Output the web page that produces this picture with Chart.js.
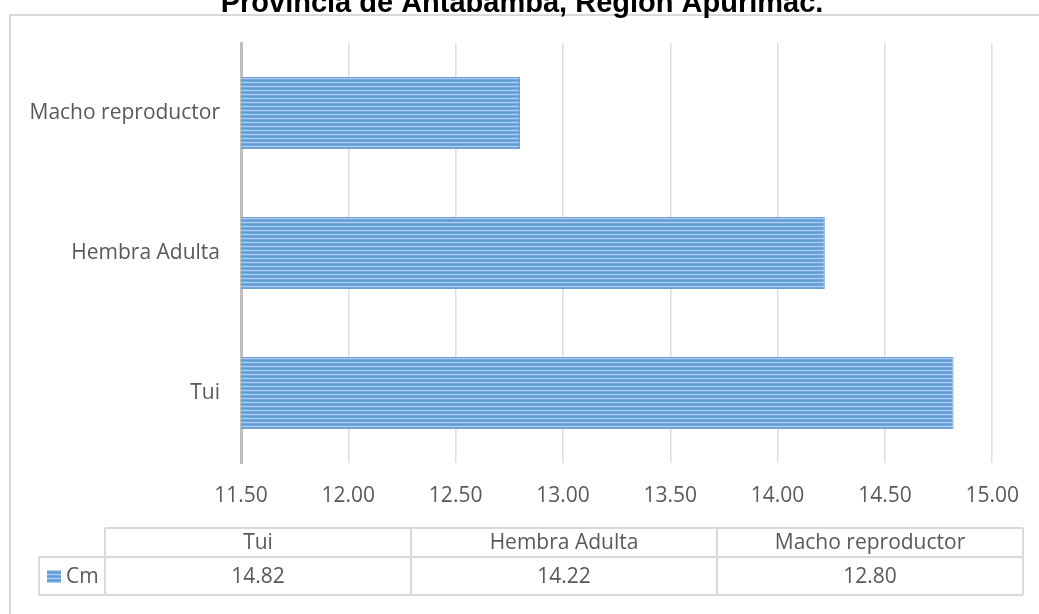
<!DOCTYPE html>
<html>
<head>
<meta charset="utf-8">
<title>Antabamba</title>
<script src="https://cdn.jsdelivr.net/npm/chart.js@4.4.0/dist/chart.umd.min.js"></script>
<style>
body{margin:0;background:#fff;}
</style>
</head>
<body>
<canvas id="chart" width="1039" height="614"></canvas>
<script>
'use strict';

// chart values
var categories = ['Tui', 'Hembra Adulta', 'Macho reproductor'];
var cmValues = [14.82, 14.22, 12.80];
var seriesName = 'Cm';
var titleText = 'Provincia de Antabamba, Región Apurímac.';
var axisMin = 11.5;
var axisMax = 15.0;
var axisStep = 0.5;

var textColor = '#595959';
var lineColor = '#d9d9d9';
var labelFont = {family: '"Open Sans", sans-serif', size: 21};

var canvas = document.getElementById('chart');
var ctx = canvas.getContext('2d');

//striped fill like the excel pattern
function stripes(){
  var c = document.createElement('canvas');
  c.width = 8;
  c.height = 4;
  var g = c.getContext('2d');
  var rows = ['#5b9bd5', '#75a8de', '#aecbec', '#75a8de'];
  for (var i = 0; i < rows.length; i++){
    g.fillStyle = rows[i];
    g.fillRect(0, i, 8, 1);
  }
  return ctx.createPattern(c, 'repeat');
}
var barFill = stripes();

// title, outer frame and the data table under the axis
var extras = {
  id: 'extras',
  beforeDraw: function(chart){
    var c = chart.ctx;
    c.save();
    c.strokeStyle = lineColor;
    c.lineWidth = 2;
    c.strokeRect(10, 15, 1100, 700);
    c.fillStyle = '#000';
    c.font = 'bold 29px "Liberation Sans", Arial, sans-serif';
    c.textAlign = 'center';
    c.textBaseline = 'alphabetic';
    c.fillText(titleText, 522, 12);
    c.restore();
  },
  afterDraw: function(chart){
    var c = chart.ctx;
    var top = 528, headH = 29, rowH = 38;
    var keyLeft = 39, colLeft = 105, colRight = 1023;
    var colW = (colRight - colLeft) / categories.length;
    var mid = top + headH;
    var bottom = mid + rowH;
    c.save();
    c.strokeStyle = lineColor;
    c.lineWidth = 2;
    c.beginPath();
    c.moveTo(colLeft, top); c.lineTo(colRight, top);
    c.moveTo(keyLeft, mid); c.lineTo(colRight, mid);
    c.moveTo(keyLeft, bottom); c.lineTo(colRight, bottom);
    c.moveTo(keyLeft, mid); c.lineTo(keyLeft, bottom);
    for (var i = 0; i <= categories.length; i++){
      var x = colLeft + i * colW;
      c.moveTo(x, top); c.lineTo(x, bottom);
    }
    c.stroke();

    c.fillStyle = textColor;
    c.font = '21px "Open Sans", sans-serif';
    c.textAlign = 'center';
    c.textBaseline = 'middle';
    var data = chart.data.datasets[0].data;
    for (var j = 0; j < categories.length; j++){
      var cx = colLeft + j * colW + colW / 2;
      c.fillText(categories[j], cx, top + headH / 2 + 1);
      c.fillText(data[j].toFixed(2), cx, mid + rowH / 2 + 1);
    }
    //legend key
    c.fillStyle = barFill;
    c.fillRect(47, 570, 14, 13);
    c.fillStyle = textColor;
    c.textAlign = 'left';
    c.fillText(seriesName, 66, mid + rowH / 2 + 1);
    c.restore();
  }
};

new Chart(ctx, {
  type: 'bar',
  data: {
    labels: categories,
    datasets: [{
      label: seriesName,
      data: cmValues,
      backgroundColor: barFill,
      borderColor: '#6a9fd8',
      borderWidth: 1,
      categoryPercentage: 1,
      barPercentage: 0.514
    }]
  },
  options: {
    indexAxis: 'y',
    responsive: false,
    animation: false,
    layout: {padding: {top: 43, right: 42, bottom: 101, left: 0}},
    plugins: {
      legend: {display: false},
      tooltip: {enabled: false}
    },
    scales: {
      x: {
        min: axisMin,
        max: axisMax,
        ticks: {
          stepSize: axisStep,
          padding: 20,
          color: textColor,
          font: labelFont,
          maxRotation: 0,
          callback: function(v){ return Number(v).toFixed(2); }
        },
        grid: {
          color: function(c){ return c.index === 0 ? '#bfbfbf' : '#dedede'; },
          lineWidth: function(c){ return c.index === 0 ? 3 : 1.5; },
          drawTicks: false
        },
        border: {display: false},
        afterFit: function(scale){ scale.height = 50; }
      },
      y: {
        reverse: true,
        ticks: {padding: 21, color: textColor, font: labelFont},
        grid: {display: false, drawTicks: false},
        border: {color: '#bfbfbf', width: 3},
        afterFit: function(scale){ scale.width = 241; }
      }
    }
  },
  plugins: [extras]
});
</script>
</body>
</html>
